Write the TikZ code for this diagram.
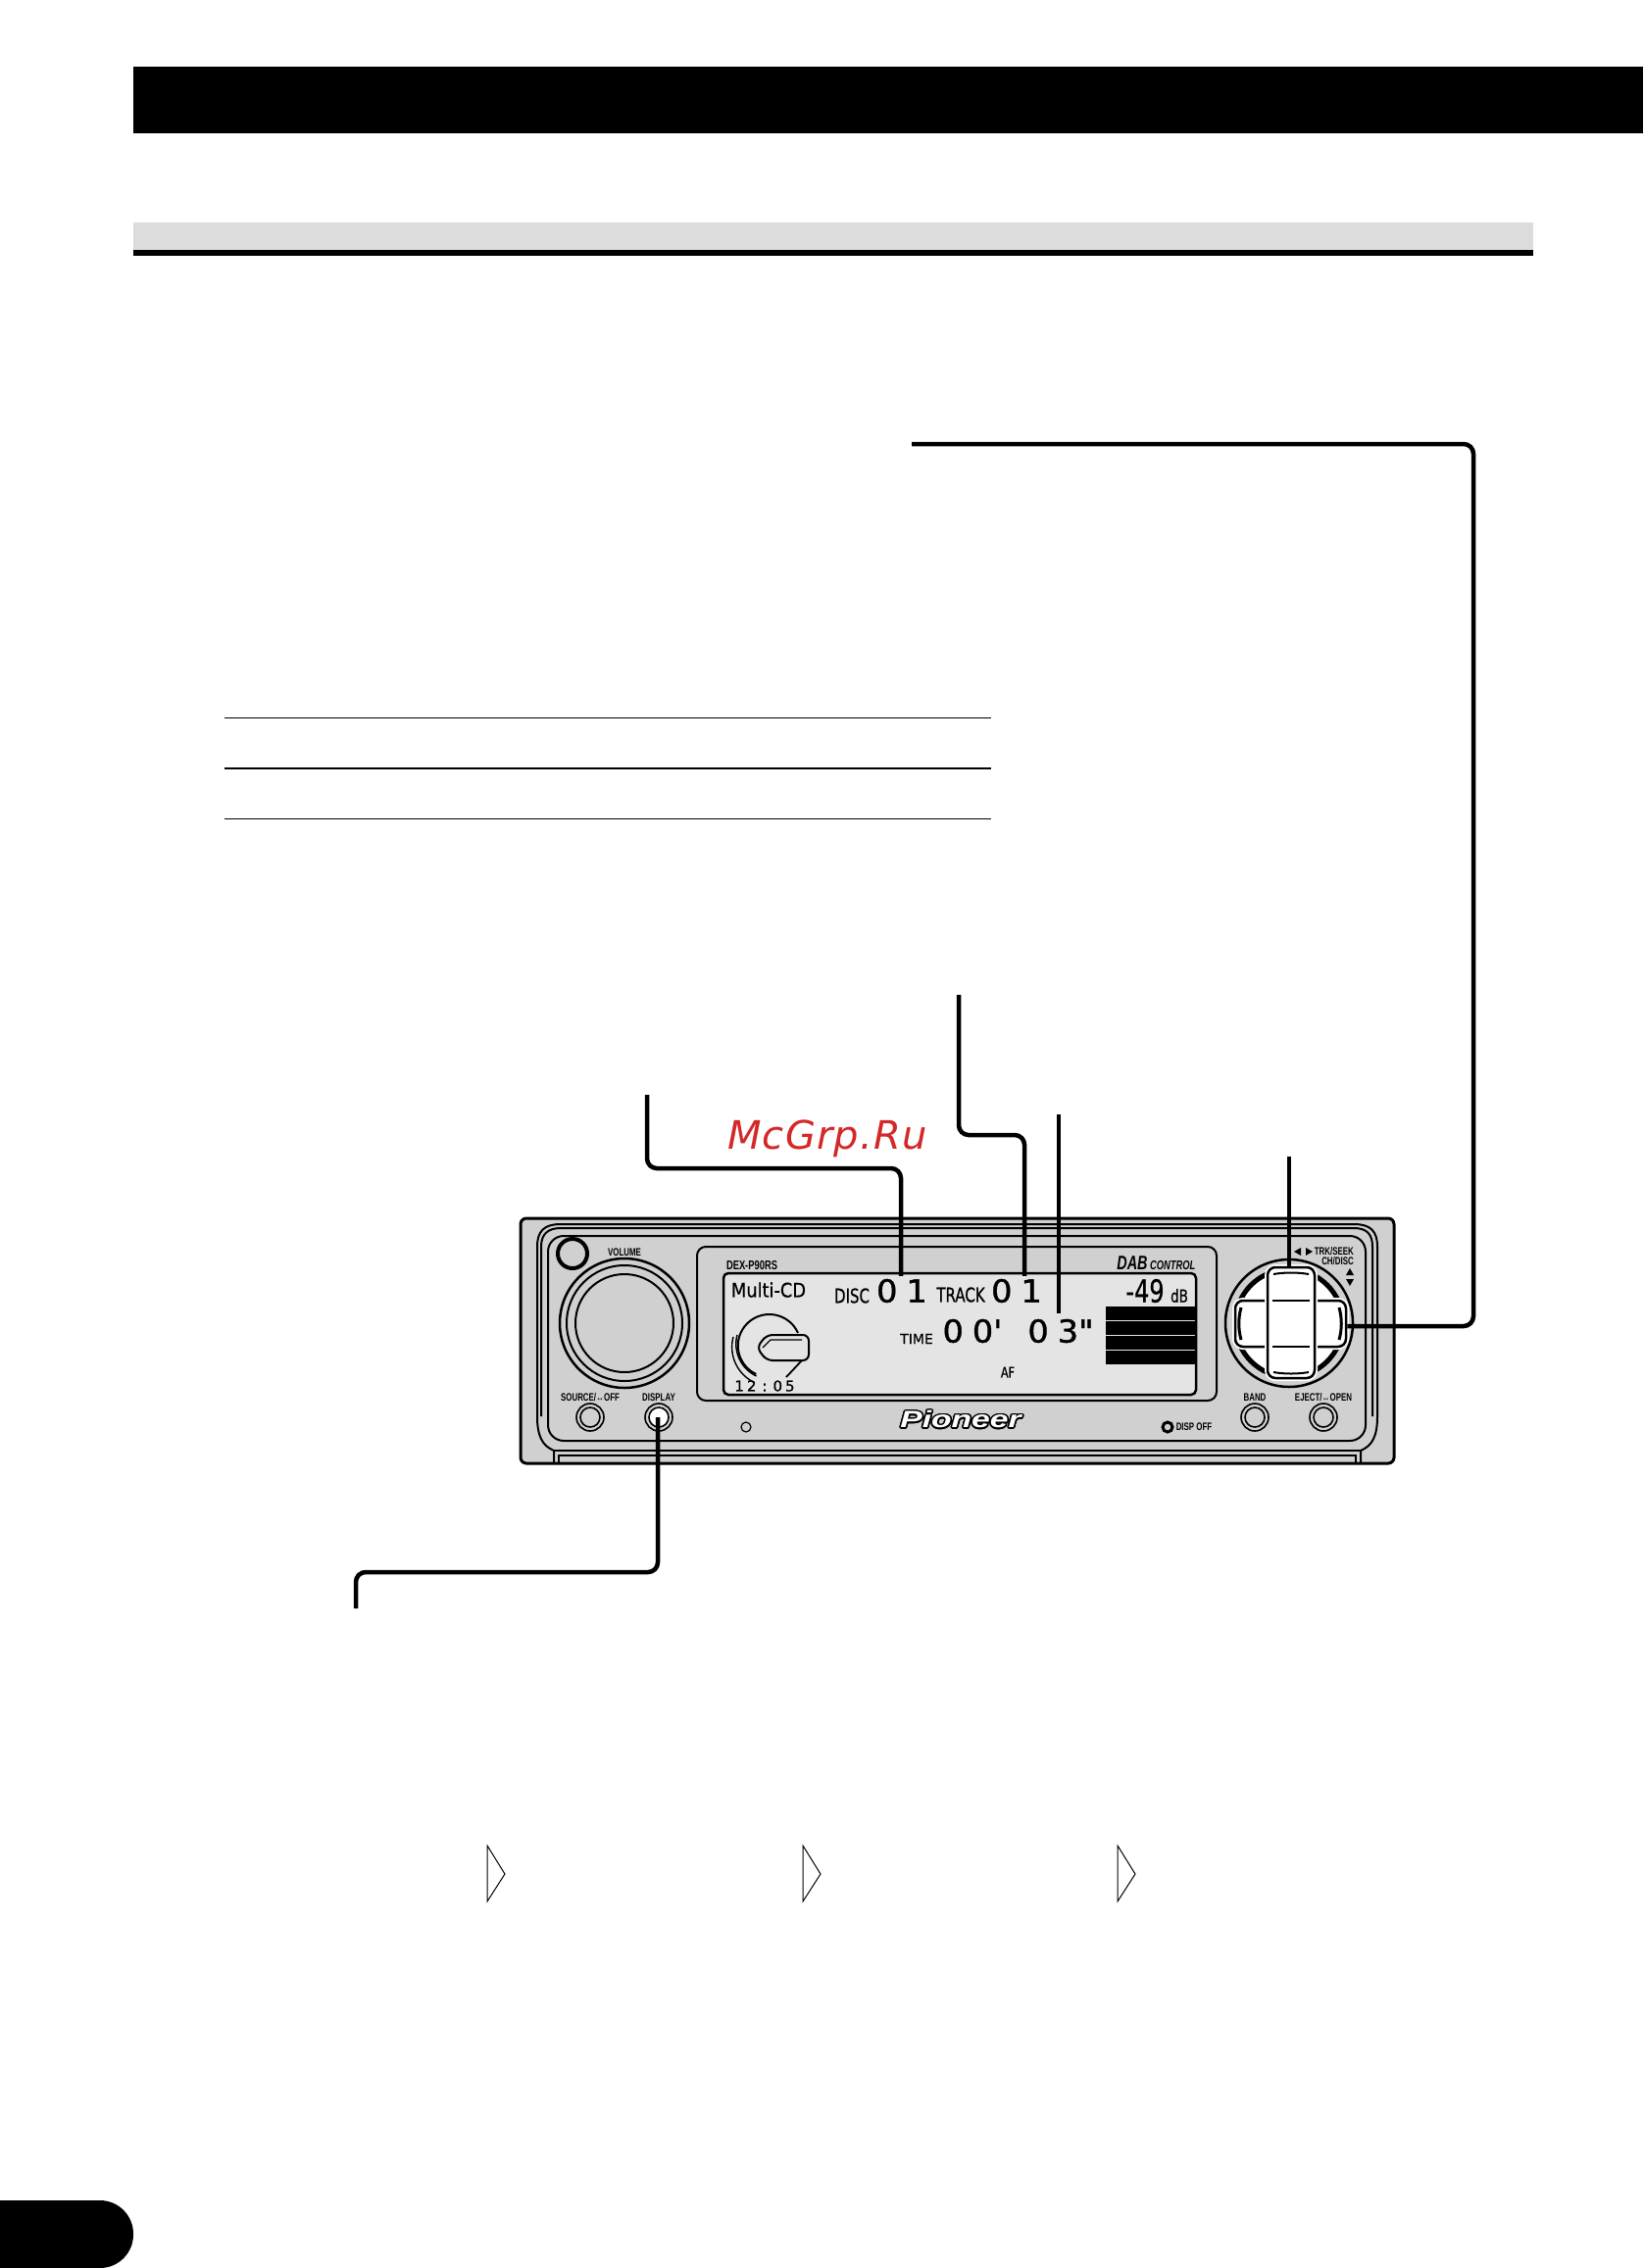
\documentclass[tikz,border=0pt]{standalone}
\usepackage{fontspec}
\usepackage{tikz}
\usepackage{contour}
\usetikzlibrary{positioning, calc}
\newfontfamily\panelfont[FakeStretch=0.72]{Liberation Sans}
\newfontfamily\lcdsmall[FakeStretch=0.75,FakeBold=0.6]{DejaVu Sans}
\newfontfamily\lcdwide[FakeStretch=0.89,FakeBold=0.6]{DejaVu Sans}
\newfontfamily\lcdnorm[FakeBold=0.6]{DejaVu Sans}
\newfontfamily\lcdbig[FakeStretch=1.05,FakeBold=1.2]{DejaVu Sans}
\newfontfamily\logofont[FakeStretch=1.4]{Liberation Sans}
\newfontfamily\markfont[LetterSpace=3]{DejaVu Sans}
\contourlength{1.6pt}
\definecolor{bodygrey}{HTML}{D0D0D0}
\definecolor{lcdgrey}{HTML}{E4E4E4}
\definecolor{bandgrey}{HTML}{DCDCDC}
\definecolor{markred}{HTML}{D42828}
\tikzset{
  panellabel/.style={inner sep=0pt,font=\panelfont\bfseries\fontsize{11}{11}\selectfont},
  lcdlabel/.style={inner sep=0pt,font=\lcdsmall\fontsize{20}{20}\selectfont},
  lcddigit/.style={inner sep=0pt,font=\lcdbig\fontsize{32}{32}\selectfont},
  leader/.style={line width=4.5pt,rounded corners=10pt},
  roundbtn/.style={circle,draw,line width=1.6pt,minimum size=28pt,inner sep=0pt},
  padkey/.style={rectangle,rounded corners=8pt,draw,line width=2.5pt,fill=white,inner sep=0pt,
    preaction={draw=white,line width=6pt}},
}
\begin{document}
\begin{tikzpicture}[x=1pt,y=-1pt]
    \useasboundingbox (0,0) rectangle (1676,2314);
    % page furniture
    \fill (136,68) rectangle (1676,136);
    \fill[bandgrey] (136,227) rectangle (1564,255);
    \fill (136,255) rectangle (1564,261);
    \draw[line width=1pt] (229,732) -- (1011,732);
    \draw[line width=2pt] (229,784) -- (1011,784);
    \draw[line width=1pt] (229,835) -- (1011,835);
    \fill (0,2245) [rounded corners=34pt] -- (136,2245) -- (136,2314) [sharp corners] -- (0,2314) -- cycle;
    % arrows of the display order
    \foreach \xa in {497,819,1140}
      \draw[line width=1pt,line join=miter] (\xa,1883) -- ($(\xa,1883)+(18,29)$) -- (\xa,1940) -- cycle;
    % unit body
    \draw[fill=bodygrey,line width=3pt,rounded corners=6pt] (531,1243) rectangle (1422,1493);
    \draw[line width=2pt] (565,1493) -- (565,1480) .. controls (553,1475) and (548,1465) .. (548,1445) -- (548,1272) .. controls (548,1256) and (555,1249) .. (572,1249) -- (1381,1249) .. controls (1398,1249) and (1405,1256) .. (1405,1272) -- (1405,1445) .. controls (1405,1465) and (1400,1475) .. (1388,1480) -- (1388,1493);
    \draw[line width=2pt] (552,1445) -- (552,1272) .. controls (552,1259) and (559,1253) .. (572,1253) -- (1381,1253) .. controls (1394,1253) and (1400,1259) .. (1400,1272) -- (1400,1445);
    \draw[line width=2pt,rounded corners=16pt] (559,1261) rectangle (1393,1470);
    \draw[line width=2pt] (565,1480) -- (1388,1480);
    \draw[line width=2pt] (570,1493) -- (570,1485) -- (1383,1485) -- (1383,1493);
    \draw[line width=2pt,rounded corners=9pt] (711,1272) rectangle (1241,1429);
    \draw[fill=lcdgrey,line width=2.5pt,rounded corners=5pt] (738,1299) rectangle (1220,1423);
    % left side controls
    \node[circle,draw,line width=4pt,minimum size=30pt,inner sep=0pt] (powerdot) at (584,1279) {};
    \node[circle,draw,line width=2.5pt,minimum size=132pt,inner sep=0pt] (knobout) at (637,1350) {};
    \node[circle,draw,line width=2pt,minimum size=118pt,inner sep=0pt] (knobmid) at (637,1350) {};
    \node[circle,draw,line width=2pt,minimum size=100pt,inner sep=0pt] (knobin) at (637,1350) {};
    \node[roundbtn] (sourcebtn) at (602,1446) {};
    \node[circle,draw,line width=1.6pt,minimum size=20pt,inner sep=0pt] (sourcecap) at (602,1446) {};
    \node[roundbtn] (dispbtn) at (672,1446) {};
    \node[circle,fill=white,draw,line width=1.6pt,minimum size=20pt,inner sep=0pt] (dispcap) at (672,1446) {};
    \node[circle,draw,line width=1.2pt,minimum size=10pt,inner sep=0pt] (irdot) at (761,1456) {};
    \node[roundbtn] (bandbtn) at (1280,1446) {};
    \node[circle,draw,line width=1.6pt,minimum size=20pt,inner sep=0pt] (bandcap) at (1280,1446) {};
    \node[roundbtn] (ejectbtn) at (1350,1446) {};
    \node[circle,draw,line width=1.6pt,minimum size=20pt,inner sep=0pt] (ejectcap) at (1350,1446) {};
    \node[circle,draw,line width=3pt,minimum size=10pt,inner sep=0pt] (dispoffdot) at (1191,1456) {};
    % panel labels
    \node[panellabel] (volume) at (637,1278) {VOLUME};
    \node[panellabel] (source) at (602,1426) {SOURCE/↔OFF};
    \node[panellabel] (display) at (672,1426) {DISPLAY};
    \node[panellabel] (band) at (1280,1426) {BAND};
    \node[panellabel] (eject) at (1350,1426) {EJECT/↔OPEN};
    \node[panellabel] (dispoff) at (1218,1456) {DISP OFF};
    \node[panellabel,font=\panelfont\bfseries\fontsize{13}{13}\selectfont] (model) at (767,1291) {DEX-P90RS};
    \node[panellabel,font=\panelfont\bfseries\itshape\fontsize{20}{20}\selectfont] (dab) at (1155,1289) {DAB};
    \node[panellabel,font=\panelfont\bfseries\itshape\fontsize{13}{13}\selectfont,right=2pt of dab.base east,anchor=base west] (control) {CONTROL};
    \node[panellabel,anchor=east] (trkseek) at (1381,1277) {TRK/SEEK};
    \node[panellabel,anchor=east] (chdisc) at (1381,1287) {CH/DISC};
    \fill (1327,1273) -- (1327,1281) -- (1320,1277) -- cycle;
    \fill (1332,1273) -- (1332,1281) -- (1339,1277) -- cycle;
    \fill (1373,1301) -- (1381,1301) -- (1377,1294) -- cycle;
    \fill (1373,1305) -- (1381,1305) -- (1377,1312) -- cycle;
    \node[inner sep=0pt,font=\logofont\bfseries\itshape\fontsize{24}{24}\selectfont] (logo) at (980,1449) {\contour{black}{\textcolor{white}{Pioneer}}};
    % lcd contents
    \node[lcdlabel,font=\lcdwide\fontsize{20}{20}\selectfont] (multicd) at (784,1316) {Multi-CD};
    \node[lcdlabel] (disclabel) at (869,1322) {DISC};
    \node[lcddigit,minimum height=30pt] (discno) at (920,1317) {0\hspace{9pt}1};
    \node[lcdlabel] (tracklabel) at (980,1321) {TRACK};
    \node[lcddigit,minimum height=30pt] (trackno) at (1037,1317) {0\hspace{9pt}1};
    \node[lcdlabel,font=\lcdnorm\fontsize{14}{14}\selectfont] (timelabel) at (935,1366) {TIME};
    \node[lcddigit] (timemin) at (992,1358) {0\hspace{9pt}0'};
    \node[lcddigit,minimum height=36pt] (timesec) at (1082,1358) {0\hspace{9pt}3"};
    \node[lcdlabel,font=\lcdsmall\fontsize{15}{15}\selectfont] (aflabel) at (1028,1400) {AF};
    \node[lcdlabel,font=\lcdsmall\fontsize{32}{32}\selectfont] (level) at (1168,1317) {-49};
    \node[lcdlabel,font=\lcdsmall\fontsize{18}{18}\selectfont] (dblabel) at (1203,1322) {dB};
    \node[lcdlabel,font=\lcdnorm\fontsize{15}{15}\selectfont] (clock) at (780,1414) {1\hspace{3pt}2\hspace{6pt}:\hspace{6pt}0\hspace{3pt}5};
    \foreach \ya in {1333,1348,1363,1378}
      \fill (1128,\ya) rectangle (1220,\ya+14);
    % disc picture
    \draw[line width=2pt] (814,1360) arc[start angle=-24,end angle=-245,radius=32];
    \draw[line width=1.4pt] (752,1362) arc[start angle=-165,end angle=-245,radius=36];
    \draw[line width=1.4pt] (748,1364) arc[start angle=-165,end angle=-245,radius=40];
    \draw[line width=1.8pt] (802,1405) -- (818,1388);
    \draw[line width=2pt,fill=lcdgrey,rounded corners=6pt] (825,1362) -- (782,1362) -- (772,1375) -- (782,1388) -- (825,1388) -- cycle;
    \draw[line width=1.2pt] (778,1375) -- (786,1367) -- (818,1367);
    % cursor pad
    \node[circle,draw,line width=2.5pt,fill=bodygrey,minimum size=130pt,inner sep=0pt] (padring) at (1315,1350) {};
    \node[circle,draw,line width=5pt,fill=white,minimum size=110pt,inner sep=0pt] (padbowl) at (1315,1350) {};
    \node[padkey,minimum width=113pt,minimum height=47pt] (padh) at (1316.5,1350.5) {};
    \draw[line width=3pt] (1266,1334) .. controls (1263,1345) and (1263,1356) .. (1266,1367);
    \draw[line width=3pt] (1366,1334) .. controls (1369,1345) and (1369,1356) .. (1366,1367);
    \node[padkey,minimum width=48pt,minimum height=113pt] (padv) at (1317,1349.5) {};
    \draw[line width=2pt] (1299,1300) .. controls (1310,1298) and (1324,1298) .. (1335,1300);
    \draw[line width=2pt] (1299,1400) .. controls (1310,1402) and (1324,1402) .. (1335,1400);
    \draw[line width=2.5pt] (1298,1327) -- (1336,1327);
    \draw[line width=2.5pt] (1298,1374) -- (1336,1374);
    % leader lines
    \coordinate (seekstart) at (930,453);
    \coordinate (seekbend) at (1503,1353);
    \coordinate (discstart) at (660,1117);
    \coordinate (discbend) at (919,1192);
    \coordinate (trackstart) at (978,1015);
    \coordinate (trackbend) at (1045,1158);
    \coordinate (timestart) at (1080,1137);
    \coordinate (padstart) at (1315,1180);
    \coordinate (dispstart) at (363,1641);
    \coordinate (dispbend) at (671,1604);
    \draw[leader] (seekstart) -| (seekbend) -- (padh.east |- seekbend);
    \draw[leader] (discstart) |- (discbend) -- (discbend |- discno.north);
    \draw[leader] (trackstart) |- (trackbend) -- (trackbend |- trackno.north);
    \draw[leader] (timestart) -- (timestart |- timesec.north);
    \draw[leader] (padstart) -- (padstart |- padv.north);
    \draw[leader] (dispstart) |- (dispbend) -- (dispbend |- dispcap.center);
    % scan mark over the page
    \node[inner sep=0pt,text=markred,font=\markfont\itshape\fontsize{40}{40}\selectfont] (mark) at (844,1162) {McGrp.Ru};
\end{tikzpicture}
\end{document}
